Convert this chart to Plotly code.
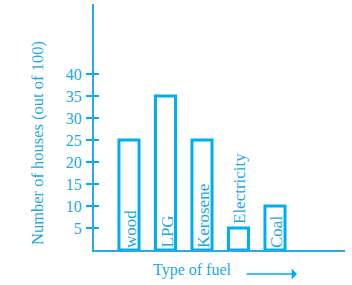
import plotly.graph_objects as go

categories = ["wood", "LPG", "Kerosene", "Electricity", "Coal"]
values = [25, 35, 25, 5, 10]
tick_vals = [5, 10, 15, 20, 25, 30, 35, 40]
y_title = "Number of houses (out of 100)"
x_title = "Type of fuel"

BLUE = "#00AEEF"
TXT = "#1BA9E1"
FONT = "Liberation Serif"

fig = go.Figure()
fig.add_trace(go.Bar(
    x=categories, y=values,
    marker=dict(color="white", line=dict(color=BLUE, width=3)),
    cliponaxis=False, hoverinfo="skip",
))
fig.add_trace(go.Scatter(x=[categories[0]], y=[0], yaxis="y2", mode="markers",
                         marker=dict(opacity=0), hoverinfo="skip", showlegend=False))

annotations = []
for c, v in zip(categories, values):
    fits = v >= 8
    annotations.append(dict(
        text=c, x=c, y=0 if fits else v, xref="x", yref="y",
        textangle=-90, showarrow=False, xanchor="center", yanchor="bottom",
        xshift=1, yshift=0 if fits else 2,
        font=dict(family=FONT, size=17, color=TXT)))

annotations += [
    dict(text=y_title, xref="paper", yref="paper", x=-0.223, y=0.435,
         textangle=-90, showarrow=False, xanchor="center", yanchor="middle",
         font=dict(family=FONT, size=16.5, color=TXT)),
    dict(text=x_title, xref="paper", yref="paper", x=0.394, y=-0.081,
         showarrow=False, xanchor="center", yanchor="middle",
         font=dict(family=FONT, size=16, color=TXT)),
    dict(text="", xref="paper", yref="paper", x=0.809, y=-0.0976,
         ax=-52, ay=0, showarrow=True, arrowhead=1, arrowsize=1.2,
         arrowwidth=1.5, arrowcolor=BLUE),
]

fig.update_layout(
    width=352, height=285,
    margin=dict(l=94, r=7, t=4, b=35),
    paper_bgcolor="white", plot_bgcolor="white",
    showlegend=False, bargap=0.45,
    font=dict(family=FONT, size=16, color=TXT),
    xaxis=dict(range=[-0.959, 5.918], showticklabels=False, ticks="",
               showgrid=False, zeroline=False, showline=True,
               linecolor="#29ABE2", linewidth=2, fixedrange=True),
    yaxis=dict(range=[0, 55.9], tickvals=tick_vals, ticks="outside",
               ticklen=6, tickwidth=2, tickcolor=BLUE, showgrid=False,
               zeroline=False, showline=True, linecolor="#29ABE2", linewidth=2,
               tickfont=dict(family=FONT, size=16, color=TXT), ticklabelstandoff=1),
    yaxis2=dict(range=[0, 55.9], overlaying="y", side="left", tickvals=tick_vals,
                ticks="inside", ticklen=5, tickwidth=2, tickcolor=BLUE,
                showticklabels=False, showgrid=False, zeroline=False, showline=False),
    annotations=annotations,
)

fig.write_html("out.html")
